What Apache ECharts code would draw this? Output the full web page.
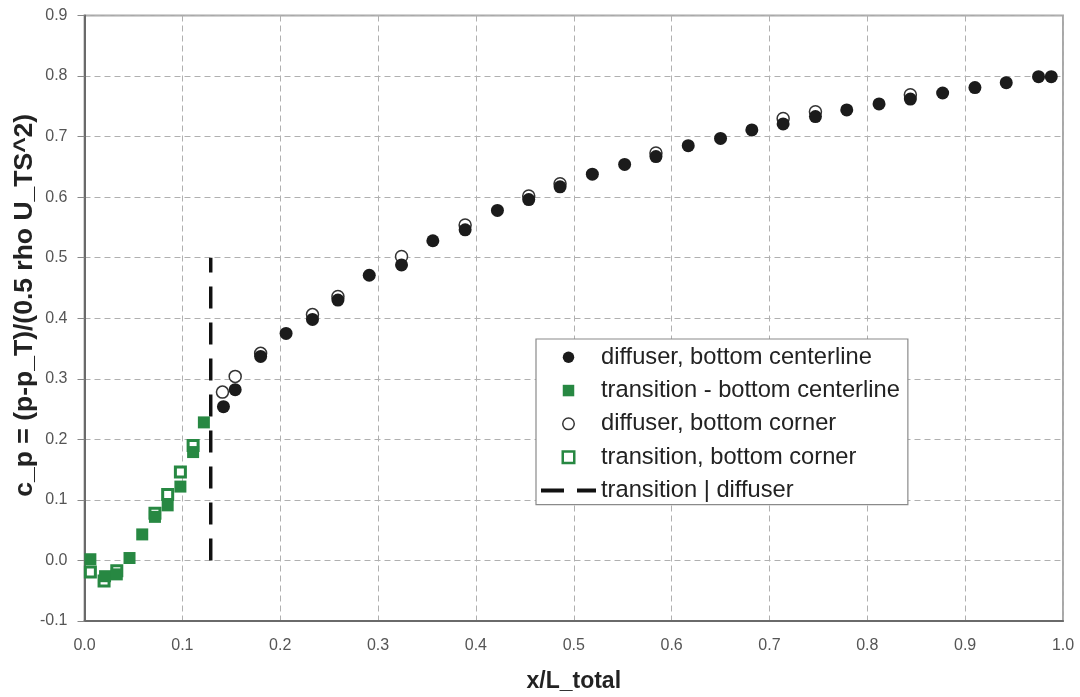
<!DOCTYPE html>
<html>
<head>
<meta charset="utf-8">
<style>
  html, body { margin: 0; padding: 0; background: #ffffff; }
  #chart { width: 1080px; height: 697px; }
</style>
<script src="https://cdn.jsdelivr.net/npm/echarts@6/dist/echarts.min.js"></script>
</head>
<body>
<div id="chart"></div>
<script>
// Pressure coefficient along the channel: x/L_total vs c_p

// diffuser, bottom centerline
const diffuserCenterline = [
  [0.142, 0.254], [0.154, 0.282], [0.180, 0.337], [0.206, 0.375], [0.233, 0.398],
  [0.259, 0.430], [0.291, 0.471], [0.324, 0.488], [0.356, 0.528], [0.389, 0.546],
  [0.422, 0.578], [0.454, 0.596], [0.486, 0.617], [0.519, 0.638], [0.552, 0.654],
  [0.584, 0.667], [0.617, 0.685], [0.650, 0.697], [0.682, 0.711], [0.714, 0.721],
  [0.747, 0.733], [0.779, 0.744], [0.812, 0.754], [0.844, 0.762], [0.877, 0.772],
  [0.910, 0.781], [0.942, 0.789], [0.975, 0.799], [0.988, 0.799]
];

// transition - bottom centerline
const transitionCenterline = [
  [0.006, 0.002], [0.021, -0.026], [0.033, -0.023], [0.046, 0.004], [0.059, 0.043],
  [0.072, 0.072], [0.085, 0.091], [0.098, 0.122], [0.111, 0.179], [0.122, 0.228]
];

// diffuser, bottom corner
const diffuserCorner = [
  [0.141, 0.278], [0.154, 0.304], [0.180, 0.342], [0.233, 0.406], [0.259, 0.436],
  [0.324, 0.502], [0.389, 0.554], [0.454, 0.602], [0.486, 0.622], [0.584, 0.673],
  [0.714, 0.730], [0.747, 0.741], [0.844, 0.769]
];

// transition, bottom corner
const transitionCorner = [
  [0.006, -0.019], [0.020, -0.034], [0.033, -0.017], [0.072, 0.078],
  [0.085, 0.109], [0.098, 0.146], [0.111, 0.190]
];

// transition | diffuser boundary
const dividerX = [0.129, 0.129];
const dividerY = [0.0, 0.5];

// axis ranges and ticks
const xMin = 0, xMax = 1.0, xStep = 0.1;
const yMin = -0.1, yMax = 0.9, yStep = 0.1;

const seriesNames = [
  'diffuser, bottom centerline',
  'transition - bottom centerline',
  'diffuser, bottom corner',
  'transition, bottom corner',
  'transition | diffuser'
];

const green = '#278842';
const dark = '#1b1b1b';
const fontFamily = '"Liberation Sans", Arial, sans-serif';

// legend icons: square kept square, dashed segment for the boundary line
const squareIcon = 'path://M0,0L10,0L10,10L0,10Z';
const dashIcon = 'path://M0,0L23,0L23,4L0,4ZM36,0L55,0L55,4L36,4Z';

const chart = echarts.init(document.getElementById('chart'), null, { renderer: 'canvas' });

const gridLine = { show: true, lineStyle: { color: '#b0b0b0', width: 1, type: [6, 4] } };

chart.setOption({
  backgroundColor: '#ffffff',
  animation: false,
  grid: {
    left: 84.5, right: 17, top: 15.5, bottom: 76,
    outerBoundsMode: 'none', containLabel: false,
    show: true, borderColor: '#a8a8a8', borderWidth: 2, backgroundColor: 'transparent'
  },
  xAxis: {
    type: 'value', min: xMin, max: xMax, interval: xStep,
    name: 'x/L_total', nameLocation: 'middle', nameGap: 49, nameMoveOverlap: false,
    nameTextStyle: { fontFamily, fontSize: 23, fontWeight: 'bold', color: '#222' },
    axisLine: { show: true, onZero: false, lineStyle: { color: '#6a6a6a', width: 2 } },
    axisTick: { show: false },
    axisLabel: { fontFamily, fontSize: 16, color: '#555', margin: 17,
      formatter: v => v.toFixed(1) },
    splitLine: gridLine
  },
  yAxis: {
    type: 'value', min: yMin, max: yMax, interval: yStep,
    name: 'c_p = (p-p_T)/(0.5 rho U_TS^2)', nameLocation: 'middle', nameRotate: 90,
    nameGap: 46, nameMoveOverlap: false,
    nameTextStyle: { fontFamily, fontSize: 26.5, fontWeight: 'bold', color: '#222',
      padding: [0, 0, 0, 26] },
    axisLine: { show: true, onZero: false, lineStyle: { color: '#6a6a6a', width: 2 } },
    axisTick: { show: true, inside: false, length: 7, lineStyle: { color: '#888', width: 1 } },
    axisLabel: { fontFamily, fontSize: 16, color: '#555', margin: 17,
      formatter: v => v.toFixed(1) },
    splitLine: gridLine
  },
  legend: {
    data: [
      { name: seriesNames[0], icon: 'circle', itemStyle: { color: dark, opacity: 1 } },
      { name: seriesNames[1], icon: squareIcon, itemStyle: { color: green, opacity: 1 } },
      { name: seriesNames[2], icon: 'circle',
        itemStyle: { color: '#fff', borderColor: '#333', borderWidth: 1.5, opacity: 1 } },
      { name: seriesNames[3], icon: squareIcon,
        itemStyle: { color: '#fff', borderColor: green, borderWidth: 2.5, opacity: 1 } },
      { name: seriesNames[4], icon: dashIcon, itemStyle: { color: '#111', borderWidth: 0, opacity: 1 } }
    ],
    orient: 'vertical',
    left: 536, top: 339,
    padding: [5, 8, 1, 5],
    itemWidth: 55, itemHeight: 11.5, itemGap: 6.8,
    symbolKeepAspect: true,
    borderColor: '#8a8a8a', borderWidth: 1.2, backgroundColor: '#ffffff',
    textStyle: { fontFamily, fontSize: 23.7, color: '#222', lineHeight: 26.5 }
  },
  series: [
    {
      name: seriesNames[2], type: 'scatter', data: diffuserCorner,
      symbol: 'circle', symbolSize: 12, z: 3,
      itemStyle: { color: '#ffffff', borderColor: '#333', borderWidth: 1.5, opacity: 1 }
    },
    {
      name: seriesNames[3], type: 'scatter', data: transitionCorner,
      symbol: 'rect', symbolSize: 10, z: 3,
      itemStyle: { color: '#ffffff', borderColor: green, borderWidth: 3, opacity: 1 }
    },
    {
      name: seriesNames[0], type: 'scatter', data: diffuserCenterline,
      symbol: 'circle', symbolSize: 13, z: 4,
      itemStyle: { color: dark, opacity: 1 }
    },
    {
      name: seriesNames[1], type: 'scatter', data: transitionCenterline,
      symbol: 'rect', symbolSize: 12, z: 4,
      itemStyle: { color: green, opacity: 1 }
    },
    {
      name: seriesNames[4], type: 'line',
      data: dividerX.map((x, i) => [x, dividerY[i]]),
      symbol: 'none', z: 2,
      itemStyle: { color: '#111' },
      lineStyle: { color: '#111', width: 3.5, type: [22, 14] }
    }
  ]
});
</script>
</body>
</html>
